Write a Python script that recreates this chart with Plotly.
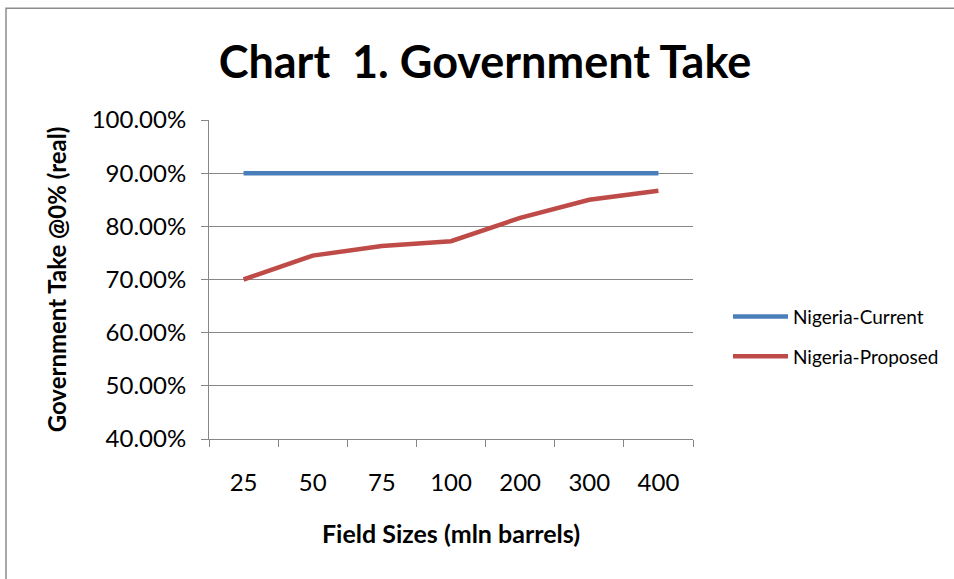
import plotly.graph_objects as go

categories = ["25", "50", "75", "100", "200", "300", "400"]
current = [0.90, 0.90, 0.90, 0.90, 0.90, 0.90, 0.90]
proposed = [0.700, 0.745, 0.763, 0.772, 0.816, 0.850, 0.867]
y_ticks = [0.4, 0.5, 0.6, 0.7, 0.8, 0.9, 1.0]

W, H = 954, 579
L, R, T, B = 209, 261, 120, 139.5
pw, ph = W - L - R, H - T - B

def px(x):
    return (x - L) / pw

def py(y):
    return (H - B - y) / ph

FONT = "Lato"
GRAY = "#878787"

fig = go.Figure()
fig.add_trace(go.Scatter(x=categories, y=current, mode="lines", name="Nigeria-Current",
                         legendgroup="a", line=dict(color="#4a7ebb", width=4.5)))
fig.add_trace(go.Scatter(x=categories, y=proposed, mode="lines", name="Nigeria-Proposed",
                         legendgroup="b", line=dict(color="#be4b48", width=4.5)))

fig.update_layout(
    width=W, height=H,
    margin=dict(l=L, r=R, t=T, b=B, pad=0, autoexpand=False),
    paper_bgcolor="white", plot_bgcolor="white",
    font=dict(family=FONT, color="black"),
    title=dict(text="<b>Chart  1. Government Take</b>", x=(222 + 748) / 2 / W, xanchor="center",
               y=1 - 62 / H, yanchor="middle", font=dict(size=45, family=FONT, color="black")),
    xaxis=dict(type="category", range=[-0.5, 6.5], tickson="boundaries", ticks="outside",
               ticklen=7, tickcolor=GRAY, showline=True, linecolor=GRAY, linewidth=1,
               showgrid=False, tickfont=dict(size=24), ticklabelstandoff=22,
               title=dict(text="<b>Field Sizes (mln barrels)</b>", font=dict(size=25), standoff=30)),
    yaxis=dict(range=[0.4, 1.0], tickvals=y_ticks, tickformat=".2%", ticks="outside",
               ticklen=7, tickcolor=GRAY, showline=True, linecolor=GRAY, linewidth=1,
               showgrid=True, gridcolor=GRAY, gridwidth=1, zeroline=False,
               tickfont=dict(size=24), ticklabelstandoff=10,
               title=dict(text="<b>Government Take @0% (real)</b>", font=dict(size=24), standoff=18)),
    legend=dict(x=px(728), y=py(298), xanchor="left", yanchor="top", font=dict(size=19),
                itemwidth=55, tracegroupgap=12, bgcolor="rgba(0,0,0,0)"),
    shapes=[dict(type="rect", xref="paper", yref="paper", x0=px(6), x1=px(1000), y0=py(620), y1=py(8),
                 line=dict(color="#8c8c8c", width=1.5), fillcolor="rgba(0,0,0,0)", layer="below")],
)

fig.write_html("out.html", config={"displayModeBar": False},
               post_script="document.body.style.margin='0';document.body.style.overflow='hidden';")
